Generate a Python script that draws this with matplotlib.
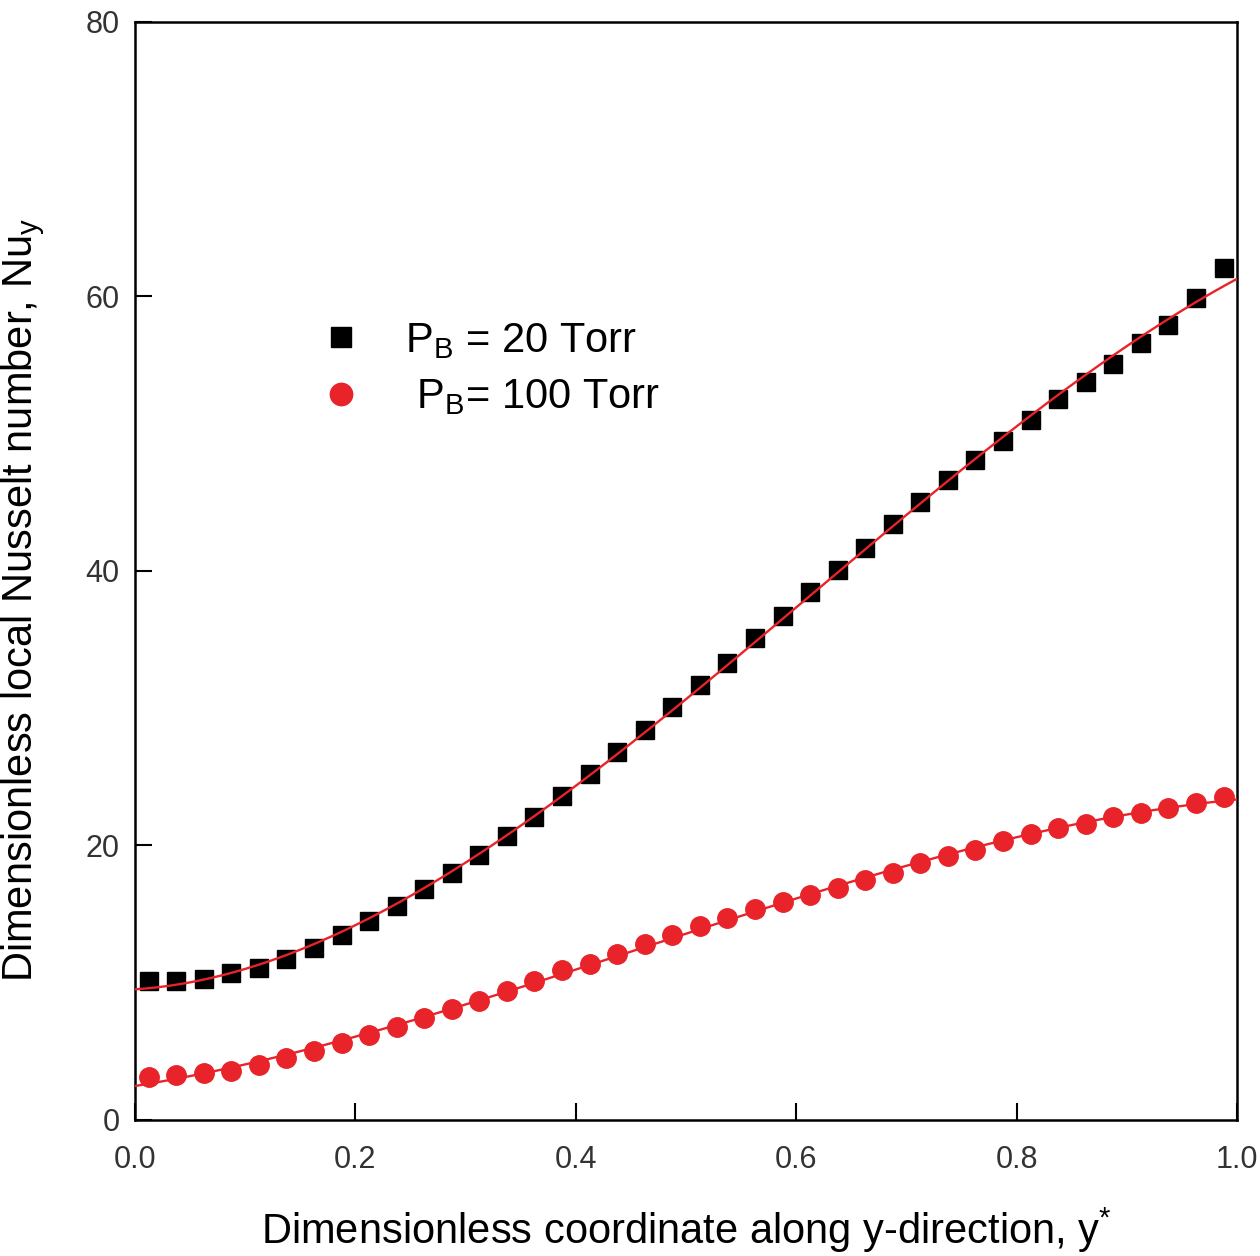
import numpy as np
import matplotlib.pyplot as plt

plt.rcParams['font.family'] = 'Liberation Sans'
plt.rcParams['mathtext.fontset'] = 'custom'
plt.rcParams['mathtext.rm'] = 'Liberation Sans'
plt.rcParams['mathtext.it'] = 'Liberation Sans'

# y* positions of the samples
y_star = [0.0125, 0.0375, 0.0625, 0.0875, 0.1125, 0.1375, 0.1625, 0.1875,
          0.2125, 0.2375, 0.2625, 0.2875, 0.3125, 0.3375, 0.3625, 0.3875,
          0.4125, 0.4375, 0.4625, 0.4875, 0.5125, 0.5375, 0.5625, 0.5875,
          0.6125, 0.6375, 0.6625, 0.6875, 0.7125, 0.7375, 0.7625, 0.7875,
          0.8125, 0.8375, 0.8625, 0.8875, 0.9125, 0.9375, 0.9625, 0.9875]

# local Nusselt number, P_B = 20 Torr
nu_20 = [10.1, 10.1, 10.3, 10.7, 11.1, 11.7, 12.5, 13.5, 14.5, 15.6,
         16.8, 18.0, 19.3, 20.7, 22.1, 23.6, 25.2, 26.8, 28.4, 30.1,
         31.7, 33.3, 35.1, 36.7, 38.5, 40.1, 41.7, 43.4, 45.0, 46.6,
         48.1, 49.5, 51.0, 52.5, 53.8, 55.1, 56.6, 57.9, 59.9, 62.1]

# local Nusselt number, P_B = 100 Torr
nu_100 = [3.1, 3.3, 3.4, 3.6, 4.0, 4.5, 5.0, 5.6, 6.2, 6.8,
          7.4, 8.1, 8.7, 9.4, 10.1, 10.9, 11.4, 12.1, 12.8, 13.5,
          14.1, 14.7, 15.4, 15.9, 16.4, 16.9, 17.5, 18.0, 18.7, 19.2,
          19.7, 20.3, 20.8, 21.3, 21.6, 22.1, 22.4, 22.7, 23.1, 23.5]

red = '#e8232a'

fig = plt.figure(figsize=(12.6, 12.56), dpi=100)
ax = fig.add_axes([0.107, 0.1083, 0.875, 0.8742])

# fitted curves over the full range
xf = np.linspace(0, 1, 200)
fit_20 = np.polyval(np.polyfit(y_star, nu_20, 3), xf)
fit_100 = np.polyval(np.polyfit(y_star, nu_100, 3), xf)

ax.plot(y_star, nu_20, 's', color='black', markersize=12.5, zorder=3,
        label=r'P$_{\mathregular{B}}$ = 20 Torr')
ax.plot(y_star, nu_100, 'o', color=red, markersize=14, zorder=3,
        label=r' P$_{\mathregular{B}}$= 100 Torr')
ax.plot(xf, fit_20, '-', color=red, linewidth=1.7, zorder=4)
ax.plot(xf, fit_100, '-', color=red, linewidth=1.7, zorder=4)

ax.set_xlim(0, 1.0)
ax.set_ylim(0, 80)
ax.set_xticks([0.0, 0.2, 0.4, 0.6, 0.8, 1.0])
ax.set_xticklabels(['0.0', '0.2', '0.4', '0.6', '0.8', '1.0'])
ax.set_yticks([0, 20, 40, 60, 80])
ax.tick_params(direction='in', length=12, width=1.5, labelsize=22,
               labelcolor='#333333')
ax.tick_params(axis='x', pad=18)
ax.tick_params(axis='y', pad=11)

for s in ax.spines.values():
    s.set_linewidth(1.8)

ax.set_xlabel(r'Dimensionless coordinate along y-direction, y$^{*}$',
              fontsize=30, labelpad=22)
ax.set_ylabel(r'Dimensionless local Nusselt number, Nu$_{\mathregular{y}}$',
              fontsize=30)
ax.yaxis.set_label_coords(-0.08, 0.474)

ax.legend(loc='center left', bbox_to_anchor=(0.13, 0.684), frameon=False,
          fontsize=30, handletextpad=0.55, labelspacing=0.4, borderpad=0,
          markerscale=1.15)

fig.savefig('out.png', dpi=100)
